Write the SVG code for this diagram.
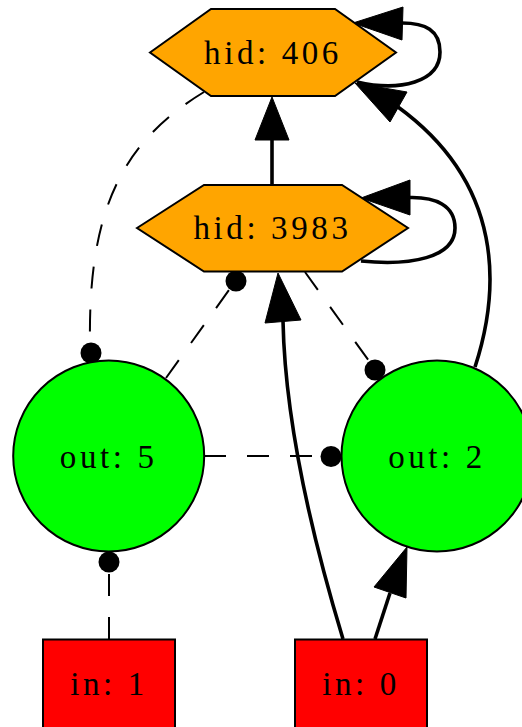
<svg xmlns="http://www.w3.org/2000/svg" width="522" height="727" viewBox="0 0 522 727">
<style>
.lbl{font-family:"Liberation Serif","Times New Roman",serif;font-size:33px;letter-spacing:3.6px;text-anchor:middle;fill:#000}
.hex{fill:#FFA500;stroke:#000;stroke-width:2}
.out{fill:#00FF00;stroke:#000;stroke-width:2}
.inp{fill:#FF0000;stroke:#000;stroke-width:2}
.e{fill:none;stroke:#000;stroke-width:3.6}
.d{fill:none;stroke:#000;stroke-width:2;stroke-dasharray:22 21}
.ah{fill:#000;stroke:#000;stroke-width:1}
.dot{fill:#000}
</style>
<rect width="522" height="727" fill="#fff"/>
<g id="edges">
  <path class="e" d="M272,185 L272,140"/>
  <polygon class="ah" points="272,97 255,140 289,140"/>
  <path class="e" d="M357,82 C400,92 440,82 440,52 C440,30 425,23 402,23"/>
  <polygon class="ah" points="353,23 403,7 402,40"/>
  <path class="e" d="M361,261 C410,266 455,258 455,228 C455,205 435,197 410,197.5"/>
  <polygon class="ah" points="361,198 410,180 410,215"/>
  <path class="e" d="M475,367 C500,290 505,185 398,107"/>
  <polygon class="ah" points="355,83 407,92 390,122"/>
  <path class="e" d="M343,639 C310,530 285,420 283,321"/>
  <polygon class="ah" points="278,273 265,323 301,320"/>
  <path class="e" d="M375,639 L390,593"/>
  <polygon class="ah" points="407,547 374,587 406,598"/>
  <path class="d" d="M204,92 C122,142 88,210 90,343"/>
  <circle class="dot" cx="91" cy="353" r="10.5"/>
  <path class="d" d="M166,378 L229,290"/>
  <circle class="dot" cx="236" cy="281" r="10.5"/>
  <path class="d" d="M305,272 L369,361"/>
  <circle class="dot" cx="375" cy="370" r="10.5"/>
  <path class="d" d="M204,456 L321,456"/>
  <circle class="dot" cx="331" cy="456.5" r="10.5"/>
  <path class="d" d="M109,639 L109,572"/>
  <circle class="dot" cx="109" cy="562" r="10.5"/>
</g>
<g id="hid406">
  <polygon class="hex" points="150,52.5 211,9 335,9 396,52.5 335,96 211,96"/>
  <text class="lbl" x="273" y="64">hid: 406</text>
</g>
<g id="hid3983">
  <polygon class="hex" points="137,228 204,185 342,185 408,228 342,271.5 204,271.5"/>
  <text class="lbl" x="272.5" y="239">hid: 3983</text>
</g>
<g id="out5">
  <circle class="out" cx="108.7" cy="456" r="95.5"/>
  <text class="lbl" x="108.7" y="467.5">out: 5</text>
</g>
<g id="out2">
  <circle class="out" cx="437" cy="456" r="95.5"/>
  <text class="lbl" x="437" y="467.5">out: 2</text>
</g>
<g id="in1">
  <rect class="inp" x="43" y="639.5" width="132" height="110"/>
  <text class="lbl" x="109" y="695">in: 1</text>
</g>
<g id="in0">
  <rect class="inp" x="295" y="639.5" width="132" height="110"/>
  <text class="lbl" x="361" y="695">in: 0</text>
</g>
</svg>
